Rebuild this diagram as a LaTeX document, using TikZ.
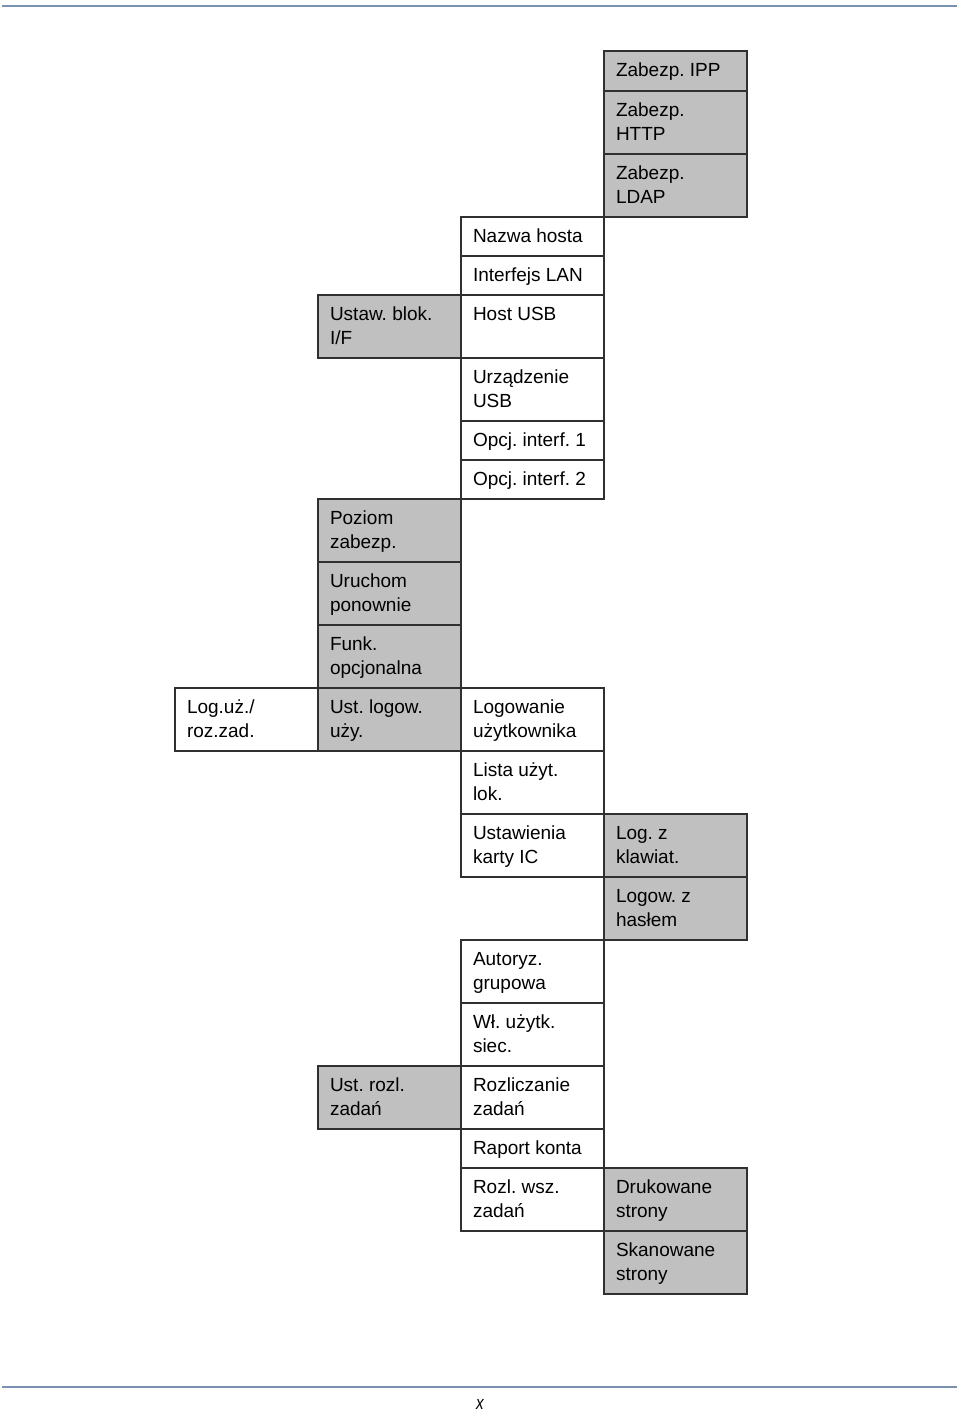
\documentclass[tikz,border=0pt]{standalone}
\usepackage{fontspec}
\setmainfont{Liberation Sans}
\frenchspacing
\definecolor{boxgray}{HTML}{C0C0C0}
\definecolor{rulecol}{RGB}{120,146,176}
\definecolor{edgecol}{HTML}{303030}
\tikzset{
  boxst/.style={draw=edgecol, line width=1.1pt, rectangle, minimum width=143pt, inner sep=0pt, outer sep=0pt},
  txtst/.style={inner sep=0pt, outer sep=0pt, align=left, font=\fontsize{19}{24}\selectfont\frenchspacing, text=black},
  rulest/.style={draw=rulecol, line width=2.6pt},
}
\newcommand\bx[6]{%
  \node[boxst, fill=#5, minimum height=#4pt, anchor=north west] (#1) at (#2,#3) {};
  \node[txtst, anchor=north west] (#1t) at ([xshift=12pt,yshift=-9.5pt]#1.north west) {\rule{0pt}{16pt}#6};
}
\begin{document}
\begin{tikzpicture}[x=1pt,y=-1pt]
\useasboundingbox (0,0) rectangle (960,1413);
\coordinate (tl) at (2,6); \coordinate (tr) at (957,6);
\coordinate (bl) at (2,1387); \coordinate (br) at (957,1387);
\draw[rulest] (tl) -- (tr);
\draw[rulest] (bl) -- (br);
\node[font=\itshape\fontsize{19}{22}\selectfont, inner sep=0pt, xscale=0.8] (pg) at (480,1404) {x};
% column 4 top
\bx{zipp}{604}{51}{40}{boxgray}{Zabezp. IPP}
\bx{zhttp}{604}{91}{63}{boxgray}{Zabezp.\\HTTP}
\bx{zldap}{604}{154}{63}{boxgray}{Zabezp.\\LDAP}
% column 3 top
\bx{nh}{461}{217}{39}{white}{Nazwa hosta}
\bx{lan}{461}{256}{39}{white}{Interfejs LAN}
\bx{husb}{461}{295}{63}{white}{Host USB}
\bx{uusb}{461}{358}{63}{white}{Urządzenie\\USB}
\bx{oia}{461}{421}{39}{white}{Opcj. interf. 1}
\bx{oib}{461}{460}{39}{white}{Opcj. interf. 2}
% column 2
\bx{blok}{318}{295}{63}{boxgray}{Ustaw. blok.\\I/F}
\bx{pz}{318}{499}{63}{boxgray}{Poziom\\zabezp.}
\bx{ur}{318}{562}{63}{boxgray}{Uruchom\\ponownie}
\bx{fo}{318}{625}{63}{boxgray}{Funk.\\opcjonalna}
\bx{ul}{318}{688}{63}{boxgray}{Ust. logow.\\uży.}
\bx{urz}{318}{1066}{63}{boxgray}{Ust. rozl.\\zadań}
% column 1
\bx{lr}{175}{688}{63}{white}{Log.uż./\\roz.zad.}
% column 3 lower
\bx{lu}{461}{688}{63}{white}{Logowanie\\użytkownika}
\bx{ll}{461}{751}{63}{white}{Lista użyt.\\lok.}
\bx{ic}{461}{814}{63}{white}{Ustawienia\\karty IC}
\bx{ag}{461}{940}{63}{white}{Autoryz.\\grupowa}
\bx{wu}{461}{1003}{63}{white}{Wł. użytk.\\siec.}
\bx{rz}{461}{1066}{63}{white}{Rozliczanie\\zadań}
\bx{rk}{461}{1129}{39}{white}{Raport konta}
\bx{rw}{461}{1168}{63}{white}{Rozl. wsz.\\zadań}
% column 4 lower
\bx{lk}{604}{814}{63}{boxgray}{Log. z\\klawiat.}
\bx{lh}{604}{877}{63}{boxgray}{Logow. z\\hasłem}
\bx{dr}{604}{1168}{63}{boxgray}{Drukowane\\strony}
\bx{sk}{604}{1231}{63}{boxgray}{Skanowane\\strony}
\end{tikzpicture}
\end{document}
